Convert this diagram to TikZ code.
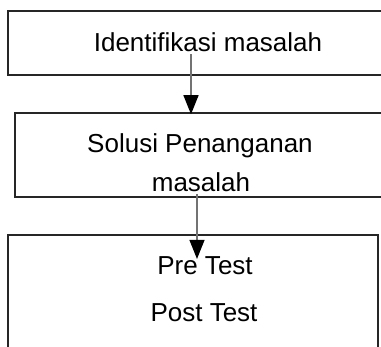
\documentclass[tikz,border=0pt]{standalone}
\usepackage{fontspec}
\setmainfont{Liberation Sans}
\usetikzlibrary{arrows.meta}

\begin{document}
\begin{tikzpicture}[x=1pt, y=-1pt,
  box/.style={draw=black!85, line width=1.5pt, inner sep=0pt},
  lbl/.style={font=\fontsize{26}{30}\selectfont, inner sep=2pt, anchor=base},
  arr/.style={draw=black!55, line width=1.2pt, -{Triangle[width=15pt, length=19pt, color=black]}}]
  \useasboundingbox (0,0) rectangle (381,347);
  \clip (0,0) rectangle (381,347);
  % boxes
  \node[box, minimum width=460pt, minimum height=64pt] (b1) at (238,43) {};
  \node[box, minimum width=440pt, minimum height=84pt] (b2) at (235,155) {};
  \node[box, minimum width=370pt, minimum height=170pt] (b3) at (193,320) {};
  % texts
  \node[lbl] (t1) at (208,52) {Identifikasi masalah};
  \node[lbl] (t2a) at (200,153) {Solusi Penanganan};
  \node[lbl] (t2b) at (201,192) {masalah};
  \node[lbl] (t3a) at (205,275) {Pre Test};
  \node[lbl] (t3b) at (204,322) {Post Test};
  % arrows
  \draw[arr, shorten >=-2pt] ([xshift=-17pt]t1.south) -- ([xshift=-17pt]t1.south |- b2.north);
  \draw[arr, shorten >=-4pt] ([xshift=-4pt]t2b.south) -- ([xshift=-4pt]t2b.south |- t3a.north);
\end{tikzpicture}
\end{document}
